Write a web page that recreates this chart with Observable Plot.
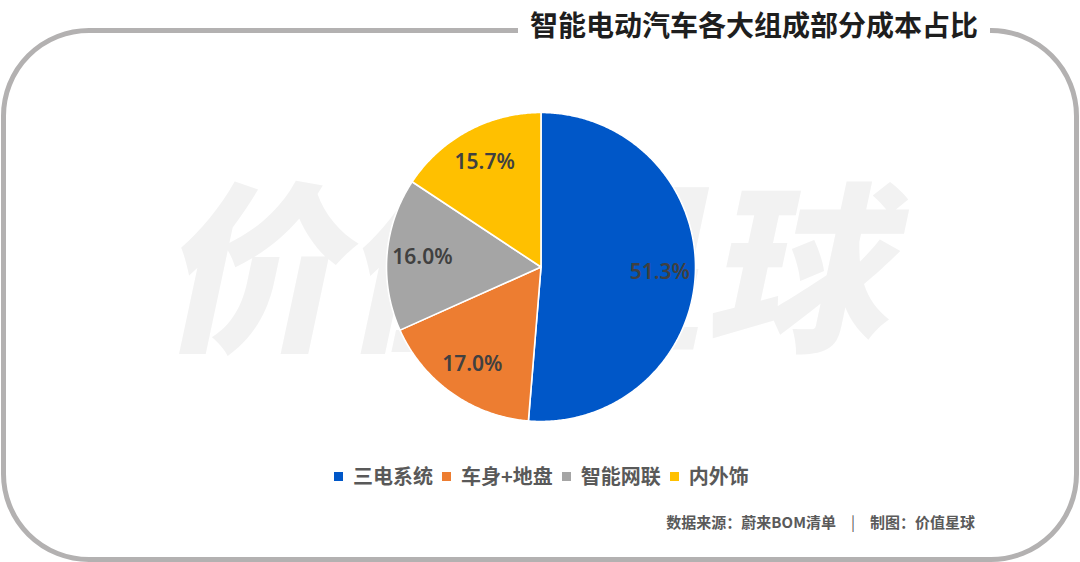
<!DOCTYPE html>
<html>
<head>
<meta charset="utf-8">
<script src="https://cdn.jsdelivr.net/npm/d3@7"></script>
<script src="https://cdn.jsdelivr.net/npm/@observablehq/plot@0.6"></script>
<style>
  html, body { margin: 0; padding: 0; background: #fff; }
  body { width: 1080px; height: 562px; position: relative; overflow: hidden;
         font-family: "Noto Sans CJK SC", "Noto Sans", sans-serif; }
  #frame { position: absolute; left: 0.5px; top: 27.5px; width: 1078px; height: 534px;
           box-sizing: border-box; border: 5px solid #b3b1b1; border-radius: 88px; }
  #title { position: absolute; left: 518px; top: 9px; padding: 0 12px; background: #fff;
           font-size: 28px; line-height: 30px; font-weight: 700; color: #1e1e1e; white-space: nowrap; }
  #watermark { position: absolute; left: 0; width: 1080px; top: 166px; text-align: center;
               font-size: 182px; line-height: 184px; font-weight: 900; color: #f2f2f2;
               transform: skewX(-12deg); white-space: nowrap; }
  #chart { position: absolute; left: 376px; top: 102px; }
  #chart svg { overflow: visible; background: transparent; }
  #legend { position: absolute; left: 334px; top: 464px; height: 24px; display: flex; align-items: center; }
  .item { display: inline-flex; align-items: center; margin-right: 9px; }
  .sw { width: 9px; height: 9px; margin-right: 10px; }
  .lab { font-size: 20px; line-height: 24px; font-weight: 700; color: #595959; white-space: nowrap; }
  #source { position: absolute; right: 105px; top: 512px; font-size: 15px; line-height: 20px;
            font-weight: 700; color: #5a5a5a; white-space: nowrap; }
  #source .sep { margin: 0 15px; font-weight: 400; }
</style>
</head>
<body>
<div id="frame"></div>
<div id="watermark"></div>
<div id="chart"></div>
<div id="title"></div>
<div id="legend"></div>
<div id="source"></div>
<script>
// ---- data ----
const categories = ["三电系统", "车身+地盘", "智能网联", "内外饰"];
const shares = [51.3, 17.0, 16.0, 15.7];
const colors = ["#0057C8", "#ED7D31", "#A5A5A5", "#FFC000"];
const titleText = "智能电动汽车各大组成部分成本占比";
const sourceLeft = "数据来源：蔚来BOM清单";
const sourceRight = "制图：价值星球";
const watermarkText = "价值星球";

// ---- geometry from d3.pie ----
const table = categories.map((c, i) => ({name: c, value: shares[i]}));
const arcs = d3.pie().sort(null).value(d => d.value).startAngle(0).endAngle(2 * Math.PI)(table);

const polyPoints = [];
arcs.forEach(a => {
  polyPoints.push({name: a.data.name, x: 0, y: 0});
  const n = Math.max(2, Math.ceil((a.endAngle - a.startAngle) / (Math.PI / 360)));
  for (let k = 0; k <= n; k++) {
    const t = a.startAngle + (a.endAngle - a.startAngle) * k / n;
    polyPoints.push({name: a.data.name, x: Math.sin(t), y: Math.cos(t)});
  }
});
const labelPoints = arcs.map(a => {
  const m = (a.startAngle + a.endAngle) / 2;
  return {name: a.data.name, x: 0.77 * Math.sin(m), y: 0.77 * Math.cos(m),
          text: d3.format(".1f")(a.data.value) + "%"};
});

const plot = Plot.plot({
  width: 329,
  height: 329,
  margin: 10,
  x: {domain: [-1, 1], axis: null},
  y: {domain: [-1, 1], axis: null},
  color: {domain: categories, range: colors},
  style: {background: "transparent", overflow: "visible"},
  marks: [
    Plot.line(polyPoints, {x: "x", y: "y", z: "name", fill: "name", stroke: "white",
                           strokeWidth: 1.6, strokeLinejoin: "round", curve: "linear-closed"}),
    Plot.text(labelPoints, {x: "x", y: "y", text: "text", fill: "#404040", fontSize: 21,
                            fontWeight: 600, fontFamily: "Noto Sans, Noto Sans CJK SC, sans-serif"})
  ]
});
document.getElementById("chart").appendChild(plot);

// ---- texts ----
document.getElementById("title").textContent = titleText;
document.getElementById("watermark").textContent = watermarkText;

const legend = document.getElementById("legend");
categories.forEach((c, i) => {
  const item = document.createElement("span");
  item.className = "item";
  const sw = document.createElement("span");
  sw.className = "sw";
  sw.style.background = colors[i];
  const lab = document.createElement("span");
  lab.className = "lab";
  lab.textContent = c;
  item.appendChild(sw);
  item.appendChild(lab);
  legend.appendChild(item);
});

const src = document.getElementById("source");
const s1 = document.createElement("span"); s1.textContent = sourceLeft;
const s2 = document.createElement("span"); s2.className = "sep"; s2.textContent = "|";
const s3 = document.createElement("span"); s3.textContent = sourceRight;
src.appendChild(s1); src.appendChild(s2); src.appendChild(s3);
</script>
</body>
</html>
